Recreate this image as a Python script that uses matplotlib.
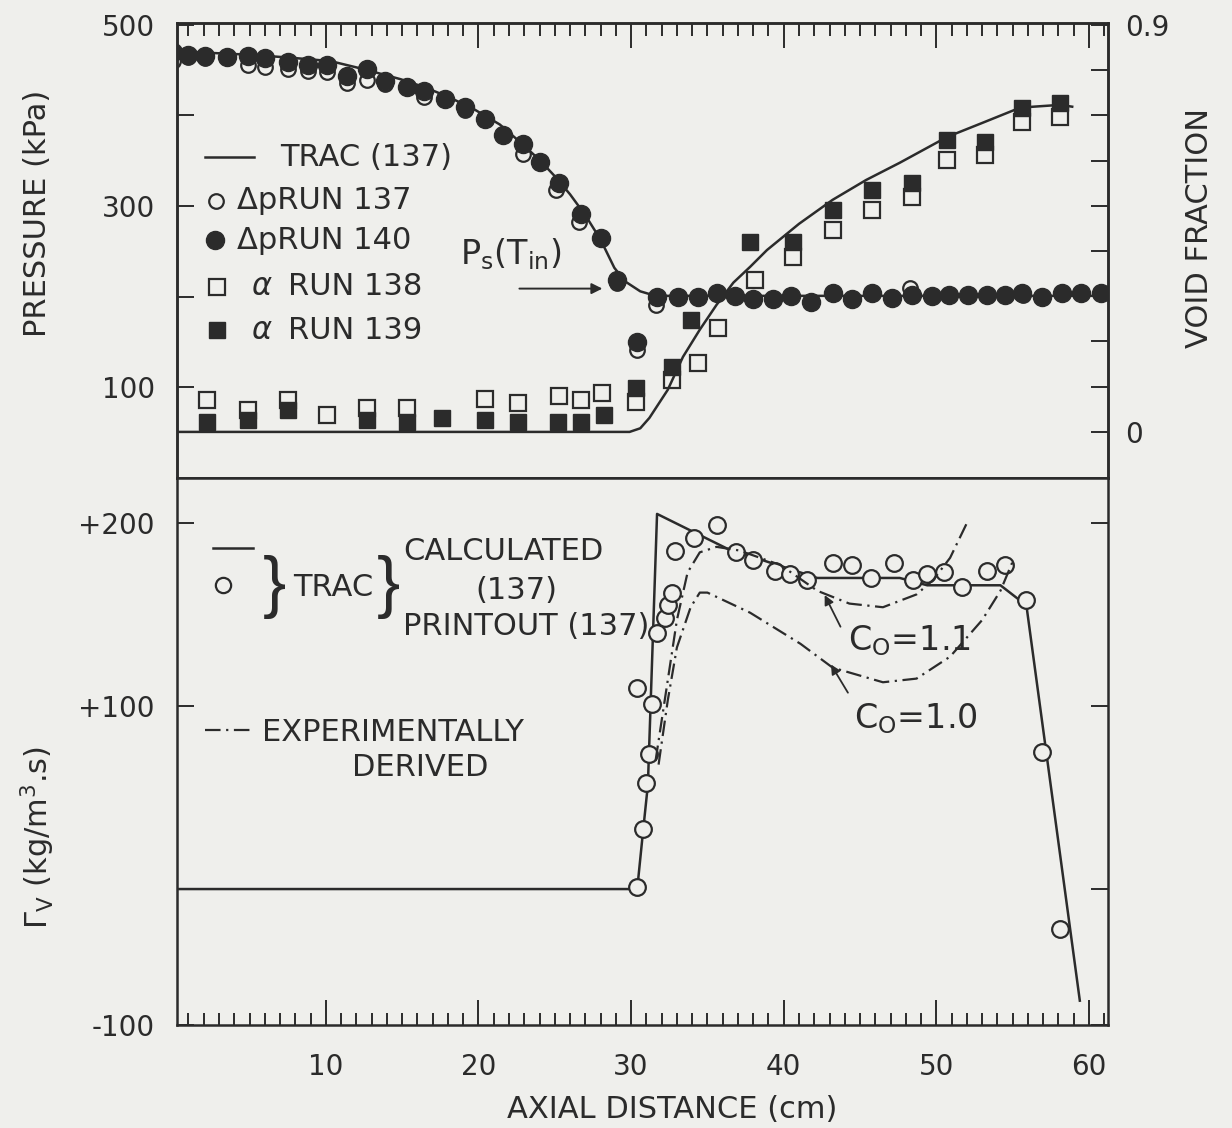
import matplotlib
matplotlib.use('Agg')
import matplotlib.pyplot as plt
from matplotlib.ticker import FixedLocator, FixedFormatter, MultipleLocator

plt.rcParams['font.family'] = ['DejaVu Sans']
plt.rcParams['mathtext.fontset'] = 'dejavusans'

INK = '#2b2b2b'
BG = '#efefec'

# ---- top panel: pressure along the nozzle (kPa)
trac_p_x = [0.3, 2.5, 5.0, 7.5, 10.3, 12.5, 14.9, 16.5, 18.1, 19.8, 21.4, 22.7, 24.0,
            25.0, 26.0, 27.0, 28.0, 28.9, 29.6, 30.6, 31.6, 61.2]
trac_p = [471, 469, 467, 464, 460, 451, 440, 431, 420, 406, 390, 371, 351,
          333, 313, 290, 263, 232, 217, 206, 201, 201]

run140_x = [0.0, 1.0, 2.1, 3.5, 4.9, 6.0, 7.5, 8.8, 10.1, 11.4, 12.7, 13.9, 15.3, 16.4,
            17.8, 19.1, 20.4, 21.6, 22.9, 24.0, 25.3, 26.7, 28.0, 29.1, 30.4, 31.7,
            33.1, 34.4, 35.6, 36.8, 38.0, 39.3, 40.5, 41.8, 43.2, 44.5, 45.8, 47.1,
            48.4, 49.7, 50.8, 52.1, 53.3, 54.5, 55.6, 56.9, 58.2, 59.5, 60.8]
run140_p = [470, 467, 466, 465, 466, 463, 459, 456, 456, 443, 451, 438, 431, 427,
            418, 409, 396, 379, 368, 349, 326, 291, 265, 219, 150, 200,
            200, 200, 204, 201, 197, 198, 201, 194, 204, 198, 204, 199,
            202, 201, 202, 202, 202, 202, 204, 200, 204, 204, 204]

run137_x = [0.0, 1.0, 2.1, 4.9, 6.0, 7.5, 8.8, 10.1, 11.4, 12.7, 13.9, 16.4, 19.1,
            22.9, 25.1, 26.6, 29.1, 30.4, 31.6, 48.3, 55.7]
run137_p = [460, 464, 463, 456, 454, 451, 449, 448, 436, 439, 435, 420, 406,
            357, 318, 283, 215, 141, 191, 210, 202]

# ---- top panel: void fraction
trac_a_x = [0.3, 29.9, 30.6, 31.2, 32.4, 33.4, 34.5, 35.6, 36.7, 37.8, 38.9, 41.0,
            43.2, 45.4, 47.6, 50.7, 53.0, 55.5, 58.1, 58.9]
trac_a = [0.0, 0.0, 0.008, 0.031, 0.093, 0.166, 0.226, 0.281, 0.330, 0.365, 0.402, 0.460,
          0.513, 0.557, 0.595, 0.652, 0.683, 0.717, 0.723, 0.719]

run138_x = [2.2, 4.9, 7.5, 10.1, 12.7, 15.3, 20.4, 22.6, 25.3, 26.7, 28.1, 30.3, 32.7,
            34.4, 35.7, 38.1, 40.6, 43.2, 45.8, 48.4, 50.7, 53.2, 55.6, 58.1]
run138_a = [0.071, 0.049, 0.071, 0.038, 0.053, 0.053, 0.073, 0.064, 0.080, 0.071, 0.086,
            0.066, 0.115, 0.153, 0.230, 0.336, 0.387, 0.447, 0.491, 0.520, 0.602, 0.613,
            0.686, 0.697]

run139_x = [2.2, 4.9, 7.5, 12.7, 15.3, 17.6, 20.4, 22.6, 25.2, 26.7, 28.2, 30.3, 32.7,
            33.9, 37.8, 40.6, 43.2, 45.8, 48.4, 50.7, 53.2, 55.6, 58.1]
run139_a = [0.022, 0.027, 0.049, 0.027, 0.022, 0.031, 0.027, 0.022, 0.022, 0.022, 0.038,
            0.097, 0.144, 0.248, 0.420, 0.420, 0.491, 0.535, 0.551, 0.646, 0.641, 0.717,
            0.728]

# ---- bottom panel: vapour generation rate (kg/m3.s)
calc_x = [0.3, 30.4, 30.8, 31.1, 31.7, 36.3, 42.2, 47.6, 49.4, 54.2, 55.9, 59.4]
calc_g = [0, 0, 33, 57, 205, 186, 170, 170, 166, 166, 155, -61]

print_x = [30.4, 30.8, 31.0, 31.2, 30.4, 31.4, 31.7, 32.2, 32.4, 32.7, 32.9, 34.1, 35.6,
           36.9, 38.0, 39.4, 40.4, 41.5, 43.2, 44.5, 45.7, 47.2, 48.5, 49.4, 50.5, 51.7,
           53.3, 54.5, 55.9, 56.9, 58.1]
print_g = [1, 33, 58, 74, 110, 101, 140, 148, 155, 162, 185, 192, 199,
           184, 180, 174, 172, 169, 178, 177, 170, 178, 169, 172, 173, 165,
           174, 177, 158, 75, -22]

c11_x = [31.6, 32.4, 33.0, 33.7, 34.5, 35.6, 37.1, 39.8, 42.2, 44.3, 46.5, 48.7, 49.8, 50.9, 52.0]
c11_g = [70, 114, 147, 173, 184, 187, 185, 177, 163, 156, 154, 161, 169, 181, 200]

c10_x = [31.8, 32.4, 33.0, 33.9, 34.5, 35.0, 37.8, 41.1, 43.2, 46.5, 48.7, 50.9, 53.0, 54.2, 55.1]
c10_g = [68, 103, 132, 154, 162, 162, 151, 134, 121, 113, 115, 127, 147, 163, 181]

fs_tick = 20
fs_text = 22
DASH = (7, 2.5, 1, 2.5)

fig = plt.figure(figsize=(12.32, 11.28), dpi=100, facecolor=BG)
ax = fig.add_axes([0.1437, 0.5762, 0.7557, 0.4034])
ax2 = ax.twinx()
axb = fig.add_axes([0.1437, 0.0913, 0.7557, 0.4849])

for a in (ax, ax2, axb):
    a.set_facecolor(BG)
    for s in a.spines.values():
        s.set_color(INK)
        s.set_linewidth(1.8)
ax2.patch.set_visible(False)

# top panel
ax.plot(trac_p_x, trac_p, color=INK, lw=1.8)
ax.plot(run137_x, run137_p, 'o', mfc='none', mec=INK, mew=1.6, ms=10.5)
ax.plot(run140_x, run140_p, 'o', mfc=INK, mec=INK, ms=13)
ax2.plot(trac_a_x, trac_a, color=INK, lw=1.8)
ax2.plot(run138_x, run138_a, 's', mfc='none', mec=INK, mew=1.6, ms=11)
ax2.plot(run139_x, run139_a, 's', mfc=INK, mec=INK, ms=11)

ax.set_xlim(0.25, 61.25)
ax.set_ylim(0, 502)
ax2.set_ylim(-0.102, 0.904)

ax.xaxis.set_major_locator(MultipleLocator(10))
ax.xaxis.set_minor_locator(MultipleLocator(1))
ax.tick_params(axis='x', which='both', direction='in', top=True, bottom=False,
               labeltop=False, labelbottom=False, color=INK, width=1.4)
ax.tick_params(axis='x', which='major', length=18)
ax.tick_params(axis='x', which='minor', length=9)
ax.yaxis.set_major_locator(FixedLocator([100, 200, 300, 400, 500]))
ax.yaxis.set_major_formatter(FixedFormatter(['100', '', '300', '', '500']))
ax.tick_params(axis='y', direction='in', length=12, width=1.4, color=INK,
               labelsize=fs_tick, labelcolor=INK, pad=16)
ax2.yaxis.set_major_locator(FixedLocator([0, 0.1, 0.2, 0.3, 0.4, 0.5, 0.6, 0.7, 0.8, 0.9]))
ax2.yaxis.set_major_formatter(FixedFormatter(['0', '', '', '', '', '', '', '', '', '0.9']))
ax2.tick_params(axis='y', direction='in', length=12, width=1.4, color=INK,
                labelsize=fs_tick, labelcolor=INK, pad=12)

# legend of the top panel
T = ax.transAxes
ax.plot([0.030, 0.083], [0.705, 0.705], color=INK, lw=1.8, transform=T, clip_on=False)
ax.text(0.111, 0.705, 'TRAC (137)', transform=T, fontsize=fs_text, va='center', color=INK)
ax.plot([0.042], [0.609], 'o', mfc='none', mec=INK, mew=1.6, ms=10.5, transform=T)
ax.text(0.064, 0.609, 'ΔpRUN 137', transform=T, fontsize=fs_text, va='center', color=INK)
ax.plot([0.041], [0.523], 'o', mfc=INK, mec=INK, ms=13, transform=T)
ax.text(0.064, 0.523, 'ΔpRUN 140', transform=T, fontsize=fs_text, va='center', color=INK)
ax.plot([0.043], [0.420], 's', mfc='none', mec=INK, mew=1.6, ms=11, transform=T)
ax.text(0.080, 0.420, 'α', transform=T, fontsize=fs_text, va='center', color=INK, style='italic')
ax.text(0.119, 0.420, 'RUN 138', transform=T, fontsize=fs_text, va='center', color=INK)
ax.plot([0.043], [0.325], 's', mfc=INK, mec=INK, ms=11, transform=T)
ax.text(0.080, 0.325, 'α', transform=T, fontsize=fs_text, va='center', color=INK, style='italic')
ax.text(0.119, 0.325, 'RUN 139', transform=T, fontsize=fs_text, va='center', color=INK)

ax.annotate('', xy=(28.3, 209), xytext=(22.5, 209),
            arrowprops=dict(arrowstyle='-|>', color=INK, lw=1.4, mutation_scale=16))
ax.text(18.8, 247, r'P$_{\rm s}$(T$_{\rm in}$)', fontsize=24, va='center', color=INK)

# bottom panel
axb.plot(calc_x, calc_g, color=INK, lw=1.8)
axb.plot(print_x, print_g, 'o', mfc=BG, mec=INK, mew=1.6, ms=12)
axb.plot(c11_x, c11_g, color=INK, lw=1.6, dashes=DASH)
axb.plot(c10_x, c10_g, color=INK, lw=1.6, dashes=DASH)

axb.set_xlim(0.25, 61.25)
axb.set_ylim(-74.3, 224.6)
axb.xaxis.set_minor_locator(MultipleLocator(1))
axb.set_xticks([10, 20, 30, 40, 50, 60])
axb.set_xticklabels(['10', '20', '30', '40', '50', '60'])
axb.tick_params(axis='x', which='both', direction='in', top=False, bottom=True,
                color=INK, width=1.4, labelsize=fs_tick, labelcolor=INK, pad=20)
axb.tick_params(axis='x', which='major', length=18)
axb.tick_params(axis='x', which='minor', length=9)
axb.yaxis.set_major_locator(FixedLocator([-74.3, 0, 100, 200]))
axb.yaxis.set_major_formatter(FixedFormatter(['-100', '', '+100', '+200']))
axb.tick_params(axis='y', direction='in', length=12, width=1.4, color=INK, right=True,
                labelsize=fs_tick, labelcolor=INK, pad=16)

axb.annotate('', xy=(42.6, 162), xytext=(43.8, 142),
             arrowprops=dict(arrowstyle='-|>', color=INK, lw=1.3, mutation_scale=14))
axb.text(44.2, 136, r'C$_{\rm O}$=1.1', fontsize=24, va='center', color=INK)
axb.annotate('', xy=(43.0, 124), xytext=(44.3, 106),
             arrowprops=dict(arrowstyle='-|>', color=INK, lw=1.3, mutation_scale=14))
axb.text(44.6, 93, r'C$_{\rm O}$=1.0', fontsize=24, va='center', color=INK)

# legend of the bottom panel
B = axb.transAxes
axb.plot([0.039, 0.082], [0.872, 0.872], color=INK, lw=1.8, transform=B, clip_on=False)
axb.plot([0.049], [0.804], 'o', mfc='none', mec=INK, mew=1.6, ms=11, transform=B)
axb.text(0.105, 0.800, '}', transform=B, fontsize=50, va='center', ha='center', color=INK,
         family=['Liberation Sans', 'DejaVu Sans'], fontweight='light')
axb.text(0.125, 0.799, 'TRAC', transform=B, fontsize=fs_text, va='center', color=INK)
axb.text(0.227, 0.800, '}', transform=B, fontsize=50, va='center', ha='center', color=INK,
         family=['Liberation Sans', 'DejaVu Sans'], fontweight='light')
axb.text(0.243, 0.865, 'CALCULATED', transform=B, fontsize=fs_text, va='center', color=INK)
axb.text(0.365, 0.795, '(137)', transform=B, fontsize=fs_text, va='center', ha='center', color=INK)
axb.text(0.243, 0.728, 'PRINTOUT (137)', transform=B, fontsize=fs_text, va='center', color=INK)
axb.plot([0.030, 0.078], [0.539, 0.539], color=INK, lw=1.6, dashes=DASH,
         transform=B, clip_on=False)
axb.text(0.091, 0.534, 'EXPERIMENTALLY', transform=B, fontsize=fs_text, va='center', color=INK)
axb.text(0.261, 0.470, 'DERIVED', transform=B, fontsize=fs_text, va='center', ha='center', color=INK)

# axis titles
fig.text(38 / 1232, 1 - 213 / 1128, 'PRESSURE (kPa)', rotation=90, ha='center', va='center',
         fontsize=fs_text, color=INK)
fig.text(38 / 1232, 1 - 838 / 1128, r'$\Gamma_{\rm V}$ (kg/m$^3$.s)', rotation=90, ha='center',
         va='center', fontsize=fs_text, color=INK)
fig.text(1200 / 1232, 1 - 228 / 1128, 'VOID FRACTION', rotation=90, ha='center', va='center',
         fontsize=fs_text, color=INK)
fig.text(672 / 1232, 1 - 1110 / 1128, 'AXIAL DISTANCE (cm)', ha='center', va='center',
         fontsize=fs_text, color=INK)

fig.savefig('out.png', dpi=100, facecolor=BG)
